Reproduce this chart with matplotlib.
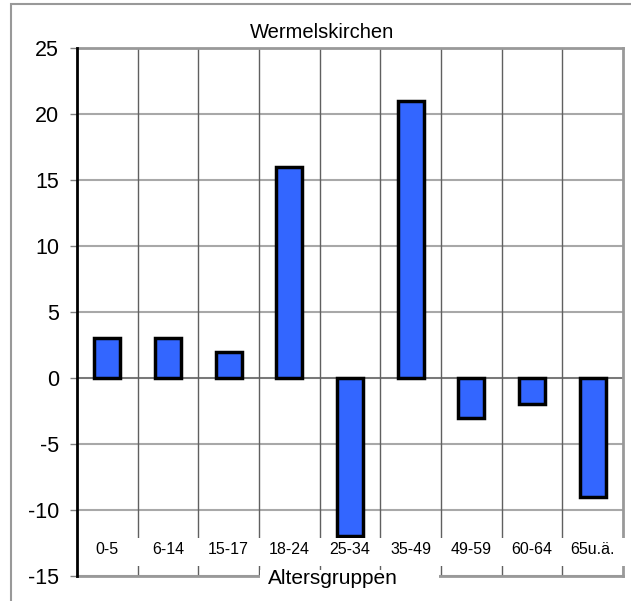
import numpy as np
import matplotlib.pyplot as plt
from matplotlib.patches import Rectangle

plt.rcParams['font.family'] = ['Liberation Sans', 'DejaVu Sans']

# data
groups = ['0-5', '6-14', '15-17', '18-24', '25-34', '35-49', '49-59', '60-64', '65u.ä.']
values = [3, 3, 2, 16, -12, 21, -3, -2, -9]
y_ticks = [-15, -10, -5, 0, 5, 10, 15, 20, 25]

W, H = 631, 601
fig = plt.figure(figsize=(W / 100, H / 100), dpi=100)

# axes placed in pixel terms
left, right, top, bottom = 77, 623, 48, 576
ax = fig.add_axes([left / W, 1 - bottom / H, (right - left) / W, (bottom - top) / H])

x = np.arange(len(groups))
ax.bar(x, values, width=0.43, color='#3366FF', edgecolor='black', linewidth=2.5, zorder=3)

ax.set_xlim(-0.5, len(groups) - 0.5)
ax.set_ylim(-15, 25)
ax.set_yticks(y_ticks)
ax.set_yticklabels([str(v) for v in y_ticks], fontsize=15.5)
ax.tick_params(axis='y', direction='out', length=5, width=1, color='#808080', pad=8)
ax.set_xticks([])

# gridlines
for yv in y_ticks:
    ax.axhline(yv, color='#a8a8a8', lw=1.5, zorder=1)
ax.axhline(0, color='#707070', lw=1.2, zorder=1)
for xb in np.arange(0.5, len(groups) - 0.5, 1):
    ax.axvline(xb, color='#606060', lw=1, zorder=1)

for s in ['top', 'right', 'bottom']:
    ax.spines[s].set_color('#999999')
    ax.spines[s].set_linewidth(2)
ax.spines['left'].set_color('black')
ax.spines['left'].set_linewidth(2)
ax.spines['left'].set_zorder(6)

# white band behind the category labels
band = Rectangle((0.004, (bottom - 566) / (bottom - top)), 1.02, 28 / (bottom - top),
                 transform=ax.transAxes, facecolor='white', edgecolor='none',
                 zorder=4, clip_on=False)
ax.add_patch(band)
for i, g in enumerate(groups):
    ax.text(i, -13.0, g, ha='center', va='center', fontsize=11.5, zorder=5)

# axis title box over the bottom spine
fig.add_artist(Rectangle((260 / W, 1 - 590 / H), 179 / W, 20 / H, transform=fig.transFigure,
                         facecolor='white', edgecolor='none', zorder=10))
fig.text(333 / W, 1 - 578 / H, 'Altersgruppen', ha='center', va='center', fontsize=15, zorder=11)

fig.text(322 / W, 1 - 33 / H, 'Wermelskirchen', ha='center', va='center', fontsize=14.5)

# outer frame
fig.add_artist(Rectangle((11 / W, -0.1), 1.2, 1.1 - 4 / H, transform=fig.transFigure,
                         facecolor='none', edgecolor='#999999', lw=1.5, zorder=0))

plt.savefig('out.png', dpi=100)
